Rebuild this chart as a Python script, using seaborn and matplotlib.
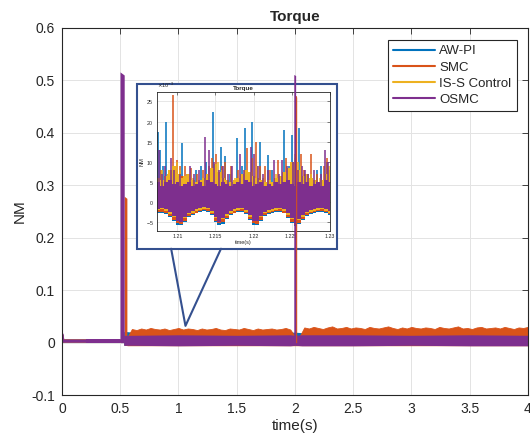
import numpy as np
import seaborn as sns
import matplotlib.pyplot as plt
from matplotlib.lines import Line2D
from matplotlib.patches import Rectangle
from matplotlib.ticker import FuncFormatter

series = ["AW-PI", "SMC", "IS-S Control", "OSMC"]
colors = ["#0072BD", "#D95319", "#EDB120", "#7E2F8E"]
box_color = "#34508f"

# ---- main plot data (NM) ----
# start-up, 0 - 0.5 s
t_pre = [0.0, 0.005, 0.21, 0.5]
pre_awpi = [0.012, 0.003, 0.003, 0.003]
pre_smc = [0.013, 0.003, 0.003, 0.003]
pre_iss = [0.012, 0.003, 0.003, 0.003]
pre_osmc = [0.015, 0.003, 0.003, 0.003]
t_osmc_pre_band = [0.21, 0.5]
osmc_pre_lo = [-0.0015, -0.0015]
osmc_pre_hi = [0.0075, 0.0075]

# load step at 0.5 s and disturbance at 2 s
osmc_spike1_t = [0.498, 0.534]
osmc_spike1_y = [0.516, 0.510]
smc_spike1_t = [0.534, 0.557]
smc_spike1_y = [0.279, 0.275]
osmc_spike2_t = [1.990, 2.006]
osmc_spike2_y = [0.511, 0.509]
smc_spike2_t = [2.005, 2.015]
smc_spike2_y = [0.470, 0.468]

# steady-state ripple band, 0.56 - 4 s (x1e-3)
t_band = np.linspace(0.56, 4.0, 87)
smc_hi = [10,
          26, 24, 27, 25, 28, 26, 25, 27, 24, 26, 28, 25, 27, 26, 24, 27, 25, 26,
          28, 25, 24, 27, 26, 25, 28, 26, 24, 27, 25, 26, 27, 25, 26, 28, 25,
          12, 12,
          29, 27, 30, 28, 26, 29, 31, 27, 28, 30, 27, 29, 28, 26, 30, 28, 27,
          29, 31, 28, 26, 29, 27, 30, 28, 27, 29, 28, 26, 30, 28, 27, 29, 31,
          27, 28, 26, 29, 30, 27, 28, 29, 27, 30, 28, 26, 29, 28, 30]
smc_lo = -5
t_coarse = [0.53, 0.56, 0.60, 1.0, 1.5, 1.96, 2.0, 2.06, 2.5, 3.0, 3.5, 4.0]
awpi_hi = [21, 21, 20, 20, 20, 20, 20, 19, 20, 20, 20, 20]
awpi_lo = [-5, -5, -5, -5, -5, -5, -5, -5, -5, -5, -5, -5]
osmc_hi = [14, 14, 14, 15, 14, 15, 14, 15, 15, 14, 15, 14]
osmc_lo = [-5, -5, -5, -6, -5, -6, -5, -6, -6, -5, -6, -6]

# ---- inset data, 1.207 - 1.23 s (x1e-3) ----
t_in = np.linspace(1.207, 1.230, 47)
awpi_in_lo = [-2.8, -2.8, -2.7, -3.0, -3.6, -4.8, -5.6, -5.8, -5.0, -3.6,
              -3.1, -2.8, -2.5, -2.2, -2.4, -3.2, -4.9, -5.7, -5.4, -4.2,
              -3.1, -2.8, -2.5, -2.4, -3.0, -4.5, -5.6, -5.8, -4.8, -3.4,
              -3.0, -2.7, -2.5, -2.4, -2.8, -4.0, -5.3, -5.9, -5.5, -4.4,
              -3.4, -3.0, -2.7, -2.5, -2.4, -2.7, -3.2]
smc_in_lo = [-2.5, -2.5, -2.5, -2.8, -3.5, -4.5, -5.2, -5.5, -4.8, -3.5,
             -3.0, -2.6, -2.3, -2.0, -2.2, -3.0, -4.6, -5.3, -5.0, -4.0,
             -3.0, -2.6, -2.3, -2.2, -2.8, -4.2, -5.3, -5.5, -4.5, -3.2,
             -2.8, -2.5, -2.3, -2.2, -2.6, -3.8, -5.0, -5.6, -5.2, -4.2,
             -3.2, -2.8, -2.5, -2.3, -2.2, -2.5, -3.0]
smc_in_hi = [5.0, 5.5, 4.5, 5.0, 6.0, 5.5, 5.0, 6.5, 5.5, 5.0,
             4.5, 5.0, 4.5, 5.5, 5.0, 6.0, 5.5, 5.0, 6.0, 5.5,
             4.5, 5.0, 4.5, 5.5, 6.0, 5.5, 5.0, 6.0, 5.5, 5.0,
             4.5, 5.0, 5.5, 4.5, 5.0, 6.0, 5.5, 6.5, 5.5, 5.0,
             4.5, 5.0, 5.5, 4.5, 5.0, 5.5, 5.0]
iss_in_lo = [-2.2, -2.0, -1.8, -2.2, -3.0, -3.8, -4.3, -4.5, -4.0, -3.0,
             -2.6, -2.2, -1.9, -1.6, -1.8, -2.6, -3.9, -4.4, -4.2, -3.4,
             -2.6, -2.2, -1.9, -1.8, -2.4, -3.6, -4.4, -4.6, -3.8, -2.8,
             -2.4, -2.1, -1.9, -1.8, -2.2, -3.2, -4.2, -4.7, -4.4, -3.6,
             -2.8, -2.4, -2.1, -1.9, -1.8, -2.1, -2.6]
iss_in_hi = [5.5, 6.0, 5.5, 6.5, 8.0, 9.0, 7.0, 6.0, 6.5, 7.0,
             5.5, 5.0, 5.5, 6.0, 7.0, 8.5, 9.5, 7.5, 6.0, 5.5,
             5.0, 5.5, 6.0, 7.0, 8.0, 7.5, 6.5, 6.0, 5.5, 5.0,
             5.5, 5.0, 6.0, 6.5, 7.5, 8.5, 10.0, 11.0, 8.0, 6.5,
             7.0, 6.0, 5.5, 5.0, 5.5, 7.0, 8.0]
osmc_in_lo = [-1.8, -1.6, -1.5, -1.8, -2.5, -3.5, -4.6, -5.0, -3.6, -2.6,
              -2.2, -1.8, -1.5, -1.3, -1.5, -2.2, -3.6, -5.0, -4.0, -3.0,
              -2.2, -1.8, -1.5, -1.5, -2.0, -3.3, -4.8, -4.6, -3.4, -2.4,
              -2.0, -1.7, -1.5, -1.5, -1.8, -2.8, -4.0, -5.2, -4.1, -3.2,
              -2.4, -2.0, -1.7, -1.5, -1.5, -1.7, -2.2]
osmc_in_hi = [4.5, 5.0, 4.0, 5.0, 5.5, 4.5, 5.0, 4.0, 4.5, 5.0,
              4.0, 4.5, 5.0, 4.0, 5.5, 5.0, 4.5, 4.0, 5.0, 4.5,
              4.0, 4.5, 5.0, 4.5, 5.5, 5.0, 4.0, 4.5, 5.0, 4.0,
              4.5, 4.0, 5.0, 4.5, 5.0, 5.5, 4.5, 4.0, 5.0, 4.5,
              5.0, 4.0, 4.5, 5.0, 4.0, 5.5, 5.0]

# spikes inside the inset window (time, peak x1e-3)
awpi_spk_t = [1.2075, 1.2077, 1.2081, 1.2085, 1.2106, 1.2112, 1.2124, 1.2131, 1.2138,
              1.2147, 1.2157, 1.2163, 1.2169, 1.2178, 1.2185, 1.2189, 1.2198, 1.2209,
              1.2219, 1.2224, 1.2240, 1.2246, 1.2250, 1.2260, 1.2267, 1.2283, 1.2288,
              1.2296]
awpi_spk_v = [17.5, 13.0, 9.0, 20.0, 14.6, 7.0, 8.0, 9.0, 10.0,
              22.4, 13.8, 11.5, 7.0, 15.8, 9.0, 18.3, 20.0, 15.0,
              11.7, 8.0, 17.9, 9.0, 16.7, 18.5, 7.0, 8.0, 9.0,
              10.0]
smc_spk_t = [1.2078, 1.2088, 1.2094, 1.2100, 1.2104, 1.2110, 1.2118, 1.2126, 1.2133,
             1.2142, 1.2146, 1.2151, 1.2158, 1.2162, 1.2170, 1.2180, 1.2191, 1.2198,
             1.2203, 1.2208, 1.2215, 1.2222, 1.2232, 1.2243, 1.2250, 1.2256, 1.2262,
             1.2266, 1.2276, 1.2284, 1.2292, 1.2297]
smc_spk_v = [8.0, 7.0, 26.7, 10.5, 9.0, 9.0, 8.4, 7.0, 8.0,
             9.0, 11.0, 12.0, 9.0, 10.0, 9.0, 8.0, 13.4, 11.0,
             15.0, 9.0, 9.0, 8.0, 10.5, 11.0, 9.0, 26.4, 12.0,
             8.0, 12.0, 7.0, 9.0, 11.0]
iss_spk_t = [1.2080, 1.2087, 1.2097, 1.2099, 1.2104, 1.2112, 1.2120, 1.2144, 1.2153,
             1.2159, 1.2176, 1.2190, 1.2194, 1.2204, 1.2213, 1.2230, 1.2247, 1.2254,
             1.2258, 1.2263, 1.2275, 1.2287, 1.2299]
iss_spk_v = [8.0, 7.0, 9.0, 10.0, 8.0, 7.0, 6.0, 8.0, 10.0,
             8.0, 6.0, 8.0, 7.0, 9.0, 6.0, 7.0, 8.0, 12.0,
             10.0, 9.0, 7.0, 6.0, 9.0]
osmc_spk_t = [1.2076, 1.2080, 1.2084, 1.2091, 1.2096, 1.2103, 1.2116, 1.2122, 1.2128,
              1.2136, 1.2141, 1.2148, 1.2154, 1.2160, 1.2166, 1.2172, 1.2182, 1.2187,
              1.2196, 1.2200, 1.2206, 1.2212, 1.2219, 1.2227, 1.2233, 1.2237, 1.2244,
              1.2252, 1.2258, 1.2264, 1.2268, 1.2272, 1.2280, 1.2289, 1.2294, 1.2298]
osmc_spk_v = [13.0, 7.0, 9.0, 11.0, 8.0, 7.0, 9.0, 7.0, 8.0,
              16.2, 13.0, 10.0, 8.0, 9.0, 7.0, 9.0, 12.0, 8.0,
              13.8, 12.0, 9.0, 7.0, 8.0, 10.5, 7.0, 10.5, 9.0,
              10.0, 8.0, 9.0, 8.0, 7.0, 8.0, 7.0, 13.0, 10.0]

m = 1e-3

sns.set_style("white")
plt.rcParams["font.family"] = ["Liberation Sans", "DejaVu Sans"]
plt.rcParams["axes.edgecolor"] = "#262626"
plt.rcParams["axes.linewidth"] = 0.8

fig = plt.figure(figsize=(5.30, 4.41), dpi=100)
ax = fig.add_axes([0.117, 0.104, 0.879, 0.833])

for name, vals, c in zip(series, [pre_awpi, pre_smc, pre_iss, pre_osmc], colors):
    sns.lineplot(x=t_pre, y=vals, color=c, lw=2.5, ax=ax, legend=False)

ax.fill_between(t_coarse, np.array(awpi_lo) * m, np.array(awpi_hi) * m,
                color=colors[0], lw=0, zorder=2.0)
ax.fill_between(t_band, smc_lo * m, np.array(smc_hi) * m,
                color=colors[1], lw=0.6, edgecolor=colors[1], zorder=2.1)
ax.fill_between(smc_spike1_t, smc_lo * m, smc_spike1_y, color=colors[1], lw=0, zorder=2.1)
ax.fill_between(t_osmc_pre_band, osmc_pre_lo, osmc_pre_hi, color=colors[3], lw=0, zorder=2.3)
ax.fill_between(osmc_spike1_t, 0, osmc_spike1_y, color=colors[3], lw=0, zorder=2.3)
ax.fill_between(t_coarse, np.array(osmc_lo) * m, np.array(osmc_hi) * m,
                color=colors[3], lw=0, zorder=2.3)

ax.set_xlim(0, 4)
ax.set_ylim(-0.1, 0.6)
ax.set_xticks(np.arange(0, 4.01, 0.5))
ax.set_yticks(np.arange(-0.1, 0.61, 0.1))
fmt = FuncFormatter(lambda v, p: "%g" % round(v, 3))
ax.xaxis.set_major_formatter(fmt)
ax.yaxis.set_major_formatter(fmt)
ax.grid(True, color="#e3e3e3", lw=0.7)
ax.tick_params(direction="in", top=True, right=True, length=4, width=0.6,
               labelsize=10, colors="#262626", pad=5)
for s in ax.spines.values():
    s.set_visible(True)
ax.set_title("Torque", fontsize=11, fontweight="bold", pad=5)
ax.set_xlabel("time(s)", fontsize=11, labelpad=2)
ax.set_ylabel("NM", fontsize=11, labelpad=3)

# callout box behind the inset
ax.add_patch(Rectangle((0.644, 0.179), 1.718, 0.313, facecolor="white",
                       edgecolor=box_color, lw=1.5, zorder=4))
ax.plot([0.937, 1.06, 1.365], [0.179, 0.032, 0.179], color=box_color, lw=1.5, zorder=4)

handles = [Line2D([], [], color=c, lw=1.5) for c in colors]
leg = ax.legend(handles, series, loc="upper right", bbox_to_anchor=(0.976, 0.967),
                borderaxespad=0, fontsize=9.5, handlelength=3.2, handletextpad=0.3,
                labelspacing=0.3, borderpad=0.4, fancybox=False, framealpha=1,
                edgecolor="#262626")
leg.get_frame().set_linewidth(0.8)
leg.set_zorder(10)

# inset
ax_in = fig.add_axes([0.296, 0.476, 0.326, 0.315], zorder=3)
bands = [(awpi_in_lo, None), (smc_in_lo, smc_in_hi), (iss_in_lo, iss_in_hi), (osmc_in_lo, osmc_in_hi)]
spikes = [(awpi_spk_t, awpi_spk_v), (smc_spk_t, smc_spk_v),
          (iss_spk_t, iss_spk_v), (osmc_spk_t, osmc_spk_v)]
for i, ((lo, hi), (st, sv), c) in enumerate(zip(bands, spikes, colors)):
    z = 2 + 0.1 * i
    top = np.zeros(len(t_in)) if hi is None else np.array(hi) * m
    ax_in.fill_between(t_in, np.array(lo) * m, top, step="mid", color=c, lw=0, zorder=z)
    ax_in.vlines(st, 0, np.array(sv) * m, color=c, lw=1.1, zorder=z)

ax_in.set_xlim(1.2073, 1.2300)
ax_in.set_ylim(-7.2e-3, 27.3e-3)
ax_in.set_xticks([1.21, 1.215, 1.22, 1.225, 1.23])
ax_in.set_xticklabels(["1.21", "1.215", "1.22", "1.225", "1.23"])
ax_in.set_yticks(np.arange(-5, 26, 5) * m)
ax_in.ticklabel_format(axis="y", style="sci", scilimits=(-3, -3), useMathText=True)
ax_in.yaxis.get_offset_text().set_fontsize(4)
ax_in.grid(True, color="#e3e3e3", lw=0.6)
ax_in.tick_params(direction="in", top=True, right=True, length=2, width=0.4,
                  labelsize=3.8, colors="#262626", pad=2)
for s in ax_in.spines.values():
    s.set_visible(True)
    s.set_linewidth(0.6)
ax_in.set_title("Torque", fontsize=4.5, fontweight="bold", pad=1.5)
ax_in.set_xlabel("time(s)", fontsize=4, labelpad=1)
ax_in.set_ylabel("NM", fontsize=4, labelpad=1)

# disturbance spikes at 2 s are drawn over the inset
ax_top = fig.add_axes(ax.get_position(), zorder=5, sharex=ax, sharey=ax)
ax_top.axis("off")
ax_top.fill_between(smc_spike2_t, 0, smc_spike2_y, color=colors[1], lw=0)
ax_top.fill_between(osmc_spike2_t, 0, osmc_spike2_y, color=colors[3], lw=0)

fig.savefig("out.png", dpi=100)
